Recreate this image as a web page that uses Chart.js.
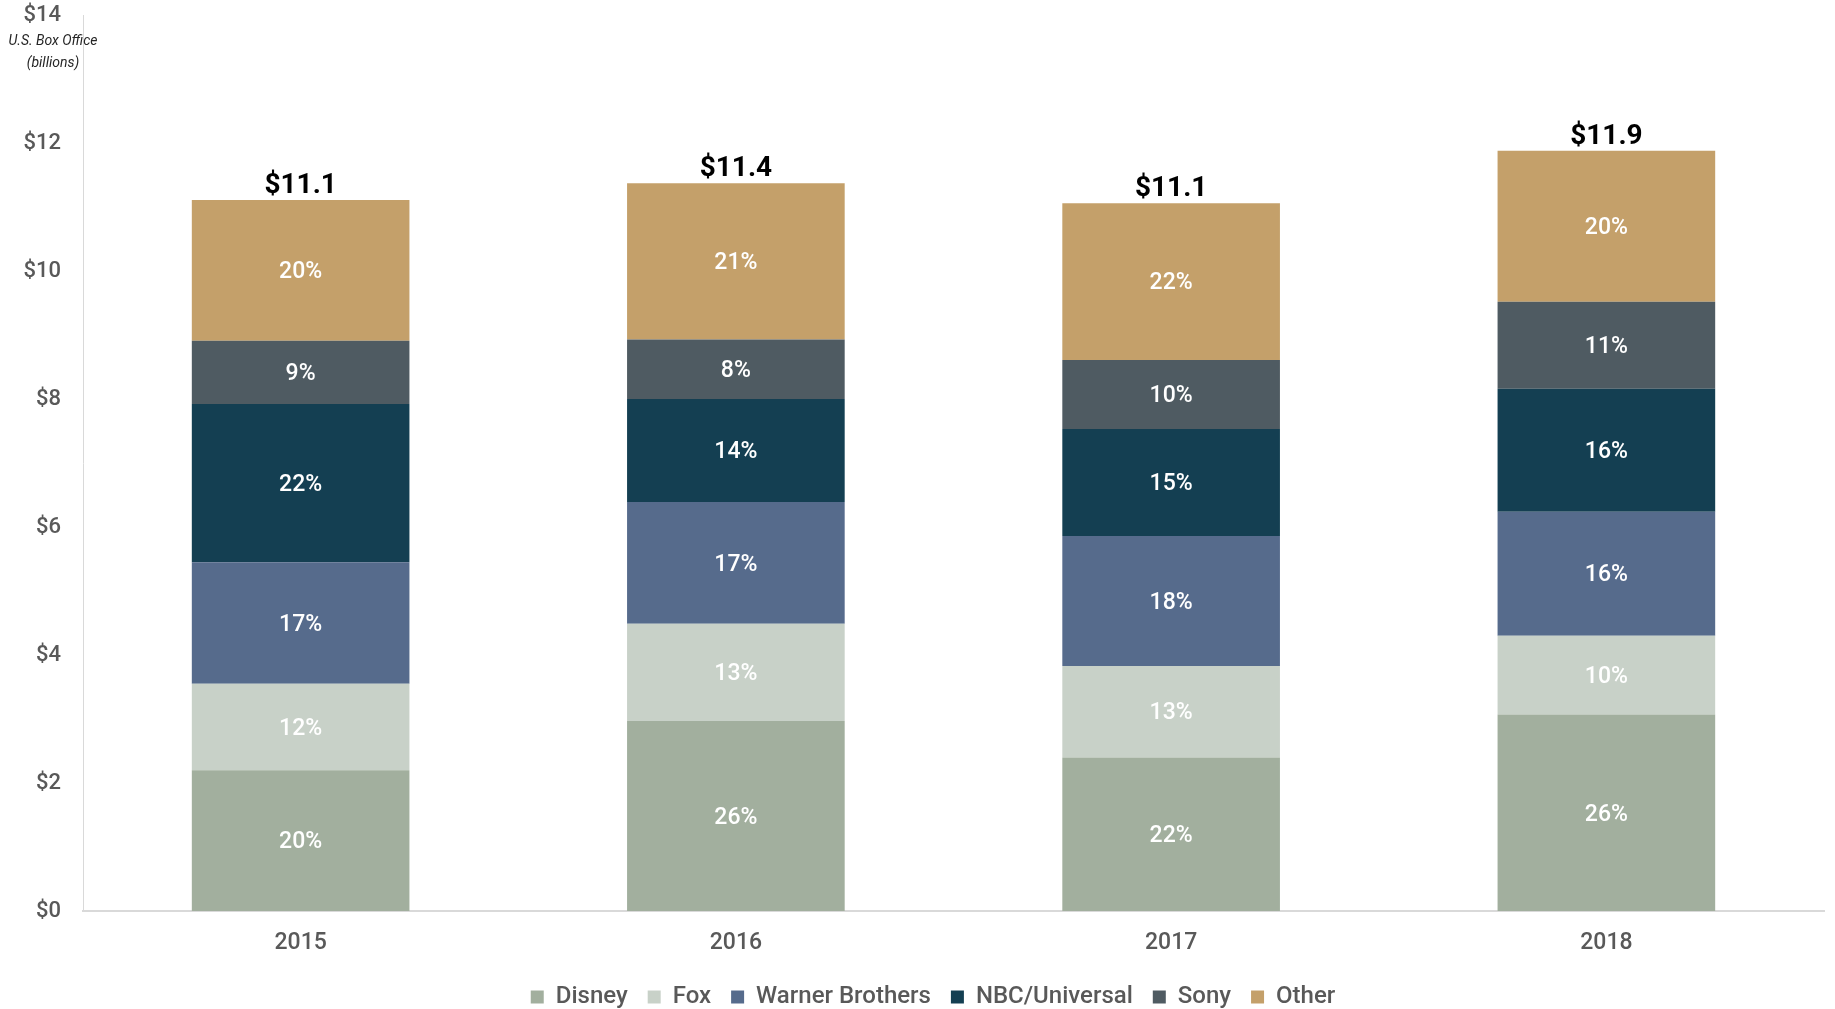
<!DOCTYPE html>
<html>
<head>
<meta charset="utf-8">
<script src="https://cdn.jsdelivr.net/npm/chart.js@4/dist/chart.umd.min.js"></script>
<style>
  html, body { margin: 0; padding: 0; background: #ffffff; }
  #wrap { width: 1835px; height: 1009px; position: relative; }
</style>
</head>
<body>
<div id="wrap"><canvas id="c"></canvas></div>
<script>
const categories = ['2015', '2016', '2017', '2018'];
const seriesNames = ['Disney', 'Fox', 'Warner Brothers', 'NBC/Universal', 'Sony', 'Other'];
const disney = [2.20, 2.97, 2.40, 3.07];
const fox = [1.35, 1.52, 1.43, 1.23];
const warner = [1.90, 1.90, 2.03, 1.94];
const nbc = [2.47, 1.61, 1.67, 1.92];
const sony = [0.99, 0.93, 1.08, 1.36];
const other = [2.20, 2.44, 2.45, 2.36];
const disneyPct = ['20%', '26%', '22%', '26%'];
const foxPct = ['12%', '13%', '13%', '10%'];
const warnerPct = ['17%', '17%', '18%', '16%'];
const nbcPct = ['22%', '14%', '15%', '16%'];
const sonyPct = ['9%', '8%', '10%', '11%'];
const otherPct = ['20%', '21%', '22%', '20%'];
const totalLabels = ['$11.1', '$11.4', '$11.1', '$11.9'];
const yTicks = [0, 2, 4, 6, 8, 10, 12, 14];
const axisTitle = ['U.S. Box Office', '(billions)'];

const colors = ['#A2AF9E', '#C8D1C8', '#566B8C', '#143F52', '#4F5B62', '#C4A06A'];
const values = [disney, fox, warner, nbc, sony, other];
const pcts = [disneyPct, foxPct, warnerPct, nbcPct, sonyPct, otherPct];

const datasets = seriesNames.map((name, i) => ({
  label: name,
  data: values[i],
  pctLabels: pcts[i],
  backgroundColor: colors[i],
  borderWidth: 0,
  barPercentage: 0.5,
  categoryPercentage: 1.0
}));

const FONT = 'Roboto, "Liberation Sans", sans-serif';
const PLOT_BOTTOM = 911;
const CANVAS_H = 1009;
const PAD_BOTTOM = -10;
const LEGEND_SHIFT = 21;

const legendShift = {
  id: 'legendShift',
  afterLayout(chart) {
    if (chart.legend) {
      chart.legend.left += LEGEND_SHIFT;
      chart.legend.right += LEGEND_SHIFT;
    }
  }
};

const labelPlugin = {
  id: 'labels',
  afterDatasetsDraw(chart) {
    const ctx = chart.ctx;
    ctx.save();
    ctx.textAlign = 'center';
    ctx.textBaseline = 'middle';
    ctx.fillStyle = '#ffffff';
    ctx.font = '500 23px ' + FONT;
    chart.data.datasets.forEach((ds, di) => {
      const meta = chart.getDatasetMeta(di);
      if (meta.hidden) return;
      meta.data.forEach((el, i) => {
        const y = (el.y + el.base) / 2;
        ctx.fillText(ds.pctLabels[i], el.x, y + 2);
      });
    });
    const last = chart.getDatasetMeta(chart.data.datasets.length - 1);
    ctx.fillStyle = '#000000';
    ctx.font = 'bold 28px ' + FONT;
    ctx.textBaseline = 'alphabetic';
    last.data.forEach((el, i) => {
      ctx.fillText(totalLabels[i], el.x, el.y - 7);
    });
    ctx.fillStyle = '#262626';
    ctx.font = 'italic 14px ' + FONT;
    ctx.textBaseline = 'middle';
    ctx.fillText(axisTitle[0], 53, 41);
    ctx.fillText(axisTitle[1], 53, 63);
    ctx.restore();
  }
};

new Chart(document.getElementById('c'), {
  type: 'bar',
  data: { labels: categories, datasets },
  options: {
    responsive: true,
    maintainAspectRatio: false,
    animation: false,
    layout: { padding: { top: 15, right: 11, left: 0, bottom: PAD_BOTTOM } },
    plugins: {
      legend: {
        position: 'bottom',
        labels: {
          color: '#595959',
          font: { family: FONT, size: 24, weight: '500' },
          boxWidth: 13,
          boxHeight: 13,
          padding: 20
        }
      },
      tooltip: { enabled: false }
    },
    scales: {
      x: {
        stacked: true,
        afterFit(scale) {
          scale.height = CANVAS_H - PAD_BOTTOM - PLOT_BOTTOM - scale.chart.legend.height;
          scale.paddingLeft = 0; scale.paddingRight = 0;
        },
        grid: { display: false, drawTicks: false },
        border: { display: true, color: '#D9D9D9', width: 2 },
        ticks: { color: '#595959', font: { family: FONT, size: 23, weight: '500' }, padding: 18 }
      },
      y: {
        stacked: true,
        min: 0,
        max: 14,
        afterBuildTicks(scale) { scale.ticks = yTicks.map(v => ({ value: v })); },
        afterFit(scale) { scale.width = 83; scale.paddingTop = 0; scale.paddingBottom = 0; },
        grid: { display: false, drawTicks: false },
        border: { display: true, color: '#D9D9D9', width: 1 },
        ticks: {
          color: '#595959',
          font: { family: FONT, size: 22, weight: '500' },
          padding: 22,
          callback: v => '$' + v
        }
      }
    }
  },
  plugins: [legendShift, labelPlugin]
});
</script>
</body>
</html>
